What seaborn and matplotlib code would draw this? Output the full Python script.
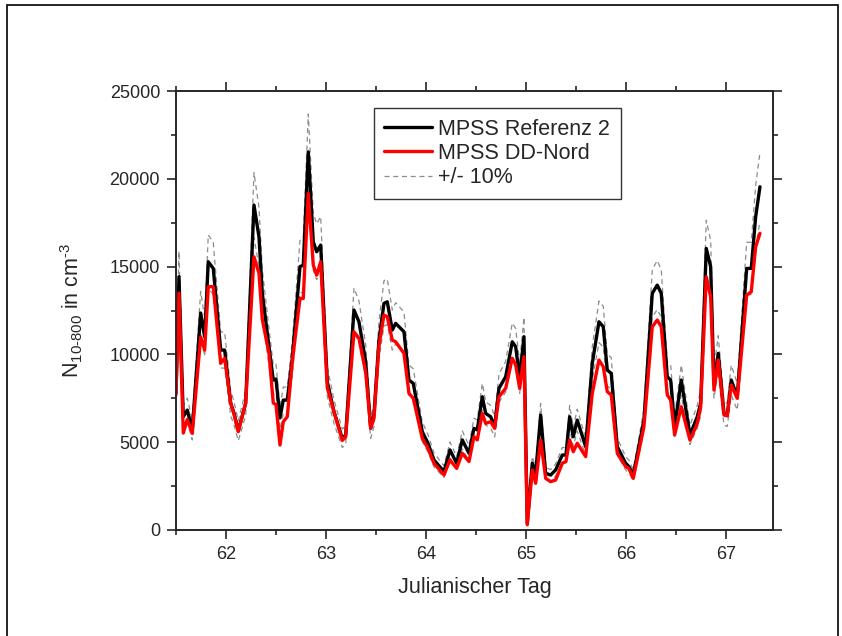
import numpy as np
import pandas as pd
import matplotlib
matplotlib.use('Agg')
import matplotlib.pyplot as plt
import seaborn as sns
from matplotlib.patches import Rectangle
from matplotlib.ticker import MultipleLocator

# Julian day of each sample
tag = [61.500, 61.530, 61.573, 61.613, 61.663, 61.747, 61.787, 61.823, 61.873, 61.947,
       61.987, 62.047, 62.080, 62.123, 62.197, 62.280, 62.330, 62.363, 62.430, 62.473,
       62.500, 62.540, 62.573, 62.613, 62.663, 62.740, 62.773, 62.823, 62.873, 62.907,
       62.947, 63.013, 63.080, 63.163, 63.197, 63.280, 63.330, 63.397, 63.447, 63.480,
       63.530, 63.580, 63.613, 63.663, 63.697, 63.780, 63.830, 63.873, 63.963, 64.020,
       64.080, 64.180, 64.240, 64.307, 64.363, 64.430, 64.480, 64.513, 64.563, 64.597,
       64.647, 64.687, 64.730, 64.797, 64.863, 64.897, 64.937, 64.980, 65.013, 65.063,
       65.097, 65.147, 65.197, 65.247, 65.297, 65.363, 65.400, 65.437, 65.473, 65.513,
       65.597, 65.663, 65.730, 65.773, 65.813, 65.853, 65.913, 65.997, 66.030, 66.073,
       66.180, 66.263, 66.313, 66.353, 66.413, 66.447, 66.487, 66.553, 66.640, 66.713,
       66.747, 66.803, 66.847, 66.880, 66.923, 66.980, 67.013, 67.053, 67.113, 67.207,
       67.253, 67.297, 67.340]

# MPSS Referenz 2 (cm^-3)
referenz = [7800, 14430, 6450, 6830, 5700, 12360, 11000, 15280, 14900, 10250,
            10250, 7230, 6660, 5650, 7230, 18510, 16700, 13500, 10440, 8540,
            8600, 6380, 7400, 7400, 9780, 15000, 15090, 21540, 16420, 15850,
            16230, 8450, 6740, 5220, 5410, 12530, 11860, 9590, 5800, 6550,
            10820, 12910, 13000, 11390, 11770, 11290, 8540, 8350, 5600, 4940,
            3990, 3320, 4560, 3800, 5130, 4370, 5790, 5700, 7590, 6640,
            6450, 5890, 8070, 8730, 10720, 10440, 8640, 11010, 380, 3800,
            3230, 6550, 3230, 3130, 3420, 4270, 4270, 6450, 5310, 6260,
            4750, 9490, 11860, 11580, 9110, 8920, 4750, 3800, 3610, 3130,
            6260, 13480, 13950, 13480, 8730, 8540, 5890, 8540, 5410, 6450,
            7220, 16040, 15000, 8350, 10060, 6640, 6550, 8540, 7590, 14900,
            14900, 17840, 19550]

# MPSS DD-Nord (cm^-3)
dd_nord = [7700, 13500, 5520, 6300, 5500, 11000, 10250, 13860, 13860, 9500,
           9780, 7230, 6600, 5600, 7230, 15560, 14630, 12000, 10060, 7230,
           7150, 4840, 6170, 6450, 9590, 13190, 13190, 19170, 15090, 14520,
           15280, 8100, 6740, 5100, 5300, 11290, 10920, 9000, 5800, 6360,
           10500, 12240, 12150, 10820, 10720, 10060, 7780, 7500, 5220, 4650,
           3800, 3130, 3990, 3510, 4370, 3900, 5310, 5130, 6640, 6070,
           6170, 5790, 7590, 8070, 9780, 9400, 8070, 9870, 300, 3420,
           2660, 5130, 2940, 2750, 2850, 3800, 3900, 5130, 4460, 4940,
           4180, 7780, 9680, 9300, 7880, 7690, 4370, 3610, 3500, 2940,
           5900, 11580, 11960, 11580, 7690, 7400, 5410, 7020, 5120, 6070,
           7000, 14430, 13290, 7970, 9680, 6550, 6500, 8260, 7500, 13380,
           13570, 16130, 16900]

df = pd.DataFrame({'tag': tag, 'ref': referenz, 'dd': dd_nord})
df['upper'] = df['ref'] * 1.1
df['lower'] = df['ref'] * 0.9

sns.set_style('ticks')
plt.rcParams['font.family'] = ['Liberation Sans', 'DejaVu Sans']
plt.rcParams['mathtext.fontset'] = 'custom'
plt.rcParams['mathtext.rm'] = 'Liberation Sans'
plt.rcParams['mathtext.it'] = 'Liberation Sans'

fig = plt.figure(figsize=(8.42, 6.36), dpi=100)
ax = fig.add_axes([0.209, 0.1667, 0.709, 0.690])

sns.lineplot(data=df, x='tag', y='upper', ax=ax, color='#8c8c8c', lw=0.9,
             linestyle=(0, (4, 3)), label='+/- 10%')
sns.lineplot(data=df, x='tag', y='lower', ax=ax, color='#8c8c8c', lw=0.9,
             linestyle=(0, (4, 3)), label='_nolegend_')
sns.lineplot(data=df, x='tag', y='ref', ax=ax, color='black', lw=2.4,
             label='MPSS Referenz 2')
sns.lineplot(data=df, x='tag', y='dd', ax=ax, color='#ff0000', lw=2.4,
             label='MPSS DD-Nord')

ax.set_xlim(61.5, 67.47)
ax.set_ylim(0, 25000)
ax.xaxis.set_major_locator(MultipleLocator(1))
ax.xaxis.set_minor_locator(MultipleLocator(0.5))
ax.yaxis.set_major_locator(MultipleLocator(5000))
ax.yaxis.set_minor_locator(MultipleLocator(2500))
ax.tick_params(which='both', direction='out', top=True, right=True,
               labeltop=False, labelright=False, width=1.2, labelsize=13)
ax.tick_params(which='major', length=6.5, pad=5)
ax.tick_params(which='minor', length=3.5)
for s in ax.spines.values():
    s.set_linewidth(1.4)

ax.set_xlabel('Julianischer Tag', fontsize=15.5, labelpad=10)
ax.set_ylabel('N$_{\\mathregular{10\u2010800}}$ in cm$^{\\mathregular{\u20103}}$',
              fontsize=15.5, labelpad=18)

h, l = ax.get_legend_handles_labels()
order = [l.index('MPSS Referenz 2'), l.index('MPSS DD-Nord'), l.index('+/- 10%')]
leg = ax.legend([h[i] for i in order], [l[i] for i in order], loc='upper center',
                bbox_to_anchor=(0.538, 0.962), fontsize=15.5, frameon=True,
                fancybox=False, edgecolor='black', handlelength=2.2,
                borderpad=0.5, labelspacing=0.15, handletextpad=0.3,
                borderaxespad=0)
leg.get_frame().set_linewidth(1.0)

# outer frame round the whole picture
fig.patches.append(Rectangle((0.0083, -0.01), 0.9867, 1.002, transform=fig.transFigure,
                             fill=False, edgecolor='black', lw=1.2))

fig.savefig('out.png', dpi=100)
